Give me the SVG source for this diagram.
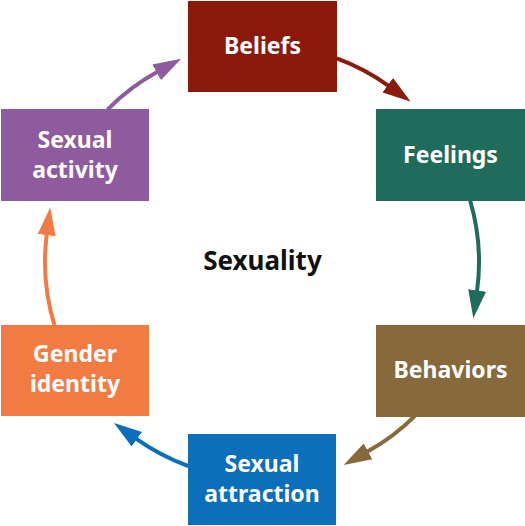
<svg xmlns="http://www.w3.org/2000/svg" width="525" height="526" viewBox="0 0 525 526">
<style>
.lbl{font-family:"Noto Sans","Open Sans","Liberation Sans",sans-serif;font-weight:bold;font-size:23px;fill:#fff;text-anchor:middle}
.ctr{font-family:"Noto Sans","Open Sans","Liberation Sans",sans-serif;font-weight:bold;font-size:26px;fill:#111;text-anchor:middle}
.c{fill:none;stroke-width:4}
</style>
<defs>
<marker id="m1" markerUnits="userSpaceOnUse" viewBox="0 -10 30 20" refX="1" refY="0" markerWidth="30" markerHeight="20" orient="auto"><path d="M0,-9 L28,0 L0,9 z" fill="#8c1a0b"/></marker>
<marker id="m2" markerUnits="userSpaceOnUse" viewBox="0 -10 30 20" refX="1" refY="0" markerWidth="30" markerHeight="20" orient="auto"><path d="M0,-9 L28,0 L0,9 z" fill="#1f6b5c"/></marker>
<marker id="m3" markerUnits="userSpaceOnUse" viewBox="0 -10 30 20" refX="1" refY="0" markerWidth="30" markerHeight="20" orient="auto"><path d="M0,-9 L28,0 L0,9 z" fill="#87693c"/></marker>
<marker id="m4" markerUnits="userSpaceOnUse" viewBox="0 -10 30 20" refX="1" refY="0" markerWidth="30" markerHeight="20" orient="auto"><path d="M0,-9 L28,0 L0,9 z" fill="#0b6fbb"/></marker>
<marker id="m5" markerUnits="userSpaceOnUse" viewBox="0 -10 30 20" refX="1" refY="0" markerWidth="30" markerHeight="20" orient="auto"><path d="M0,-9 L28,0 L0,9 z" fill="#f27b43"/></marker>
<marker id="m6" markerUnits="userSpaceOnUse" viewBox="0 -10 30 20" refX="1" refY="0" markerWidth="30" markerHeight="20" orient="auto"><path d="M0,-9 L28,0 L0,9 z" fill="#8e5b9f"/></marker>
</defs>
<g id="connectors">
<path class="c" stroke="#8c1a0b" d="M336.8,58.3 A217 217 0 0 1 388.6,85.8" marker-end="url(#m1)"/>
<path class="c" stroke="#1f6b5c" d="M470.2,200.7 A217 217 0 0 1 477,291.4" marker-end="url(#m2)"/>
<path class="c" stroke="#87693c" d="M416,414.9 A217 217 0 0 1 367.2,451.8" marker-end="url(#m3)"/>
<path class="c" stroke="#0b6fbb" d="M188.1,466 A217 217 0 0 1 136,438.7" marker-end="url(#m4)"/>
<path class="c" stroke="#f27b43" d="M54.6,325.8 A217 217 0 0 1 46.8,234.1" marker-end="url(#m5)"/>
<path class="c" stroke="#8e5b9f" d="M107.5,109.6 A217 217 0 0 1 157.5,71.8" marker-end="url(#m6)"/>
</g>
<g id="beliefs"><rect x="188" y="1" width="149" height="91" fill="#8c1a0b"/><text class="lbl" x="262.5" y="54">Beliefs</text></g>
<g id="feelings"><rect x="376" y="109" width="149" height="92" fill="#1f6b5c"/><text class="lbl" x="450.5" y="163">Feelings</text></g>
<g id="behaviors"><rect x="376" y="325" width="149" height="92" fill="#87693c"/><text class="lbl" x="450.5" y="378">Behaviors</text></g>
<g id="sexual-attraction"><rect x="188" y="434" width="148" height="91" fill="#0b6fbb"/><text class="lbl" x="262" y="472">Sexual</text><text class="lbl" x="262" y="502">attraction</text></g>
<g id="gender-identity"><rect x="1" y="325" width="148" height="91" fill="#f27b43"/><text class="lbl" x="75" y="362">Gender</text><text class="lbl" x="75" y="392">identity</text></g>
<g id="sexual-activity"><rect x="1" y="109" width="148" height="92" fill="#8e5b9f"/><text class="lbl" x="75" y="148">Sexual</text><text class="lbl" x="75" y="178">activity</text></g>
<g id="sexuality"><text class="ctr" x="262.5" y="270">Sexuality</text></g>
</svg>
